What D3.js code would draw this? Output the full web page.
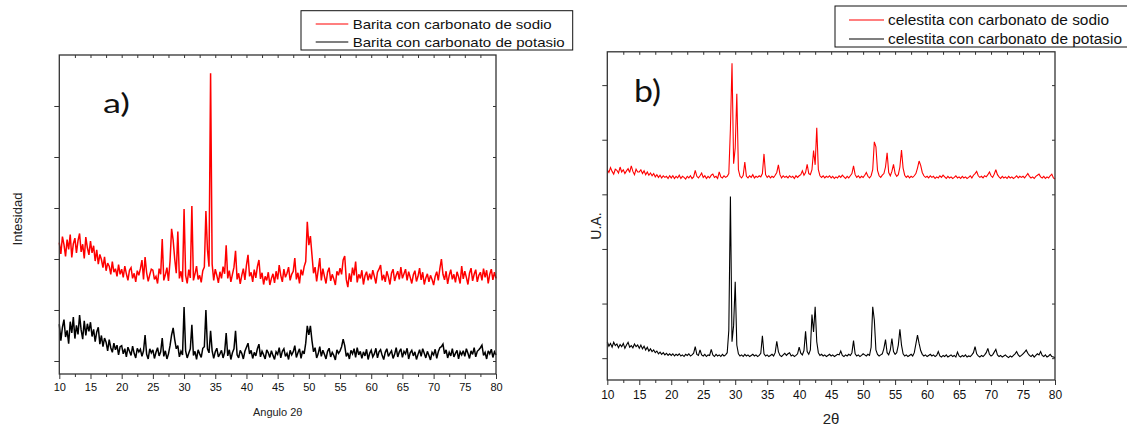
<!DOCTYPE html>
<html><head><meta charset="utf-8">
<script src="https://cdn.jsdelivr.net/npm/d3@7/dist/d3.min.js"></script>
<style>body{margin:0;background:#fff}svg{display:block}</style>
</head><body>
<svg id="c" width="1127" height="426"></svg>
<script>
// ---- data ----
const xMajorTicks = [10,15,20,25,30,35,40,45,50,55,60,65,70,75,80];
const xMinorTicks = [12.5,17.5,22.5,27.5,32.5,37.5,42.5,47.5,52.5,57.5,62.5,67.5,72.5,77.5];
const yTicks = [0,100,200,300,400,500];
// measurement grid: 2θ from 10° to 80°, step 0.25°
const angles = d3.range(10, 80.0001, 0.25);

const baritaSodio = [
232,210,244,228,205,238,219,248,203,230,241,212,236,250,214,229,201,243,222,208,
235,212,226,196,218,190,209,199,183,204,177,192,186,170,195,174,181,166,189,170,
180,164,186,171,158,178,183,162,172,155,177,168,181,198,160,204,173,156,169,180,
178,160,166,152,181,170,239,158,169,183,157,196,259,237,200,172,254,162,176,155,
298,168,152,179,163,304,158,171,186,160,168,154,177,184,294,218,185,564,190,158,
180,168,153,175,162,185,171,227,162,177,155,170,184,216,160,172,151,168,181,159,
188,208,166,174,155,179,163,185,198,161,173,150,166,158,174,149,162,171,153,176,
160,188,168,155,180,164,172,184,158,170,176,202,160,173,152,179,168,185,195,273,
227,245,208,172,184,156,178,202,158,181,166,152,174,183,157,170,161,149,176,168,
182,170,198,206,160,145,172,155,183,168,195,154,170,162,178,150,167,175,158,171,
160,178,166,152,174,180,188,158,169,155,176,165,150,172,180,157,168,176,160,184,
162,171,180,158,175,164,152,169,177,156,166,182,159,174,150,163,171,155,168,160,
149,166,175,158,181,200,170,159,176,151,168,179,160,170,154,175,165,152,186,161,
176,164,150,172,182,157,170,179,155,168,174,158,181,164,178,152,170,180,159,174,
162];

const baritaPotasio = [
72,40,66,81,47,60,34,77,55,86,44,70,52,90,61,43,79,50,73,58,
76,48,62,38,57,66,33,50,28,45,37,20,42,26,17,35,22,31,12,28,
30,14,24,8,27,19,11,29,15,6,25,18,23,9,20,51,13,4,24,16,
22,5,17,26,10,18,45,9,20,4,14,30,51,65,42,24,30,8,19,12,
106,20,6,15,24,71,11,19,3,22,14,7,25,28,100,24,16,59,20,5,
18,25,8,14,21,6,17,55,10,22,3,16,24,59,12,6,21,15,4,19,
27,35,14,21,5,17,10,24,33,8,19,12,4,22,16,7,20,11,3,18,
13,26,6,19,24,9,15,3,21,12,18,30,7,16,24,5,20,14,35,69,
51,69,40,18,26,6,14,28,9,21,13,4,19,25,8,17,11,2,22,15,
20,28,43,30,9,16,4,21,14,24,7,26,12,19,5,18,10,23,3,15,
21,8,14,25,6,18,22,11,3,17,24,9,15,20,5,13,26,8,18,24,
7,19,14,25,4,16,21,10,18,3,13,22,9,24,15,6,19,11,2,17,
12,23,5,18,26,28,33,14,22,6,17,10,24,8,15,21,4,18,12,20,
9,24,15,5,20,13,26,8,19,22,26,31,11,17,4,20,14,23,7,18,
12];

const celestitaSodio = [
345,340,349,342,337,346,344,339,350,341,345,338,343,347,340,352,342,336,346,341,
341,345,338,343,336,341,335,339,334,338,332,336,331,335,330,334,331,333,329,334,
330,334,329,333,330,335,329,333,331,328,333,330,334,329,332,344,333,330,334,339,
331,334,329,333,330,335,337,331,333,329,341,332,330,334,331,333,338,420,540,356,
385,484,345,333,330,335,359,333,330,334,331,336,330,333,331,334,332,338,374,336,
331,334,330,333,331,335,340,354,336,330,334,331,333,330,334,331,333,329,334,331,
334,336,343,335,340,355,338,336,345,380,354,422,345,334,331,334,330,333,331,334,
330,333,329,332,330,334,331,335,332,329,333,330,334,338,352,336,331,334,330,333,
331,335,340,333,330,334,345,396,387,344,334,331,335,338,350,376,340,334,342,355,
338,333,336,350,381,348,335,331,334,330,333,331,334,338,348,361,353,340,334,331,
333,330,334,331,333,329,332,330,334,331,335,332,329,333,330,332,329,331,334,330,
332,329,333,330,332,329,331,334,330,335,338,342,334,331,333,330,334,332,336,341,
334,331,337,345,336,332,329,333,330,332,329,333,330,332,329,331,334,330,333,331,
333,330,334,338,333,330,332,329,333,335,337,332,330,333,329,332,330,334,337,330,
328];

const celestitaPotasio = [
30,22,27,20,29,23,26,19,25,21,27,18,24,29,20,23,19,26,21,24,
18,24,17,22,15,20,13,17,12,15,10,13,8,11,7,10,6,9,5,8,
5,8,4,7,5,8,4,6,3,7,5,8,4,6,9,21,7,5,15,6,
4,7,3,6,5,16,6,3,7,4,6,3,7,4,6,10,51,296,30,60,
140,24,8,4,6,3,7,4,6,3,5,7,4,6,3,5,9,41,8,4,
6,3,5,7,4,10,31,12,5,3,6,9,5,8,10,4,6,3,5,8,
20,9,6,14,49,12,7,15,80,48,94,30,10,5,7,4,6,3,5,7,
4,6,3,5,7,6,13,5,3,6,4,7,5,10,32,8,4,6,3,5,
8,6,4,7,5,20,94,70,15,7,4,6,8,18,34,10,6,15,36,12,
7,10,24,53,24,8,4,6,3,5,7,4,10,26,42,27,14,7,4,6,
3,5,7,4,6,3,5,12,4,2,5,3,6,2,4,6,3,5,2,11,
4,2,5,3,6,2,4,3,6,10,21,8,4,2,5,3,6,10,18,7,
4,6,11,16,6,3,5,2,4,6,3,1,4,2,5,8,12,6,3,5,
8,11,15,9,5,3,6,2,5,8,6,12,5,3,6,2,4,7,3,2,
1];

const legendA = ["Barita con carbonato de sodio", "Barita con carbonato de potasio"];
const legendB = ["celestita con carbonato de sodio", "celestita con carbonato de potasio"];
const seriesColors = ["#ff0000", "#000000"];

// ---- drawing ----
const svg = d3.select("#c");
const SANS = "'Liberation Sans', Arial, sans-serif";

function txt(g, s, x, y, o) {
  const t = g.append("text").attr("x", x).attr("y", y).text(s)
    .attr("font-family", o.family || SANS).attr("font-size", o.size)
    .attr("fill", o.fill || "#111")
    .attr("text-anchor", o.anchor || "start");
  if (o.width) t.attr("textLength", o.width).attr("lengthAdjust", "spacingAndGlyphs");
  if (o.rotate) t.attr("transform", `rotate(${o.rotate},${x},${y})`);
  return t;
}

function panel(cfg) {
  const x = d3.scaleLinear().domain([10, 80]).range([cfg.x0, cfg.x1]);
  const y = d3.scaleLinear().domain(cfg.yDom).range([cfg.y1, cfg.y0]);
  const g = svg.append("g");

  // data lines
  const line = d3.line().x((d, i) => x(angles[i])).y(d => y(d));
  cfg.series.forEach((s, k) => {
    g.append("path").datum(s).attr("d", line).attr("fill", "none")
      .attr("stroke", seriesColors[k]).attr("stroke-width", cfg.lw)
      .attr("stroke-linejoin", "miter").attr("stroke-miterlimit", 3);
  });

  // axes
  const bottom = g.append("g").attr("transform", `translate(0,${cfg.y1})`)
    .call(d3.axisBottom(x).tickValues(xMajorTicks).tickSize(5).tickPadding(cfg.tickPad).tickFormat(d3.format("d")));
  bottom.selectAll("text").attr("font-family", SANS).attr("font-size", cfg.tickFont).attr("fill", "#111");
  g.append("g").attr("transform", `translate(0,${cfg.y1})`)
    .call(d3.axisBottom(x).tickValues(xMinorTicks).tickSize(3).tickFormat(""));
  g.append("g").attr("transform", `translate(0,${cfg.y0})`)
    .call(d3.axisTop(x).tickValues(xMajorTicks.slice(1, -1).concat(xMinorTicks)).tickSize(-3).tickFormat(""));
  g.append("g").attr("transform", `translate(${cfg.x0},0)`)
    .call(d3.axisLeft(y).tickValues(yTicks).tickSize(5).tickFormat(""));
  g.append("g").attr("transform", `translate(${cfg.x1},0)`)
    .call(d3.axisRight(y).tickValues(yTicks).tickSize(-3).tickFormat(""));
  g.selectAll(".domain").remove();
  g.selectAll(".tick line").attr("stroke", "#333").attr("stroke-width", 1);

  g.append("rect").attr("x", cfg.x0).attr("y", cfg.y0)
    .attr("width", cfg.x1 - cfg.x0).attr("height", cfg.y1 - cfg.y0)
    .attr("fill", "none").attr("stroke", "#333").attr("stroke-width", 1.3);

  // legend
  const L = cfg.legend;
  g.append("rect").attr("x", L.x).attr("y", L.y).attr("width", L.w).attr("height", L.h)
    .attr("fill", "#fff").attr("stroke", "#111").attr("stroke-width", 1);
  L.labels.forEach((lab, k) => {
    const yy = L.rows[k];
    g.append("line").attr("x1", L.lx0).attr("x2", L.lx1).attr("y1", yy).attr("y2", yy)
      .attr("stroke", seriesColors[k]).attr("stroke-width", 1.2);
    txt(g, lab, L.tx, yy + 4.8, {size: L.size, width: L.widths[k]});
  });

  // titles
  txt(g, cfg.tag, cfg.tagX, cfg.tagY, {size: cfg.tagSize, family: "Lato, 'Open Sans', sans-serif", width: cfg.tagW});
  txt(g, cfg.xLabel, cfg.xLabX, cfg.xLabY, {size: cfg.xLabSize, anchor: "middle", fill: "#222"});
  txt(g, cfg.yLabel, cfg.yLabX, cfg.yLabY, {size: cfg.yLabSize, anchor: "middle", rotate: -90, fill: "#222"});
}

panel({
  x0: 59.3, x1: 496, y0: 55, y1: 374, yDom: [-25.5, 600],
  series: [baritaSodio, baritaPotasio], lw: 1.5,
  tickFont: 11, tickPad: 4,
  legend: {x: 301, y: 10.7, w: 271.7, h: 39.3, lx0: 315.7, lx1: 348.3, tx: 352.7,
           rows: [24, 42], size: 13, labels: legendA, widths: [199, 212]},
  tag: "a)", tagX: 103, tagY: 113, tagSize: 27, tagW: 27,
  xLabel: "Angulo 2\u03b8", xLabX: 277.7, xLabY: 416, xLabSize: 11,
  yLabel: "Intesidad", yLabX: 22, yLabY: 219, yLabSize: 13
});

panel({
  x0: 607.3, x1: 1055, y0: 51.8, y1: 380, yDom: [-40, 561],
  series: [celestitaSodio, celestitaPotasio], lw: 1.1,
  tickFont: 12, tickPad: 5,
  legend: {x: 835, y: 6, w: 300, h: 41, lx0: 849, lx1: 884, tx: 888,
           rows: [20, 39], size: 14, labels: legendB, widths: [221, 234]},
  tag: "b)", tagX: 634, tagY: 102, tagSize: 31, tagW: 27,
  xLabel: "2\u03b8", xLabX: 831, xLabY: 424, xLabSize: 15,
  yLabel: "U.A.", yLabX: 601, yLabY: 226, yLabSize: 14
});
</script>
</body></html>
